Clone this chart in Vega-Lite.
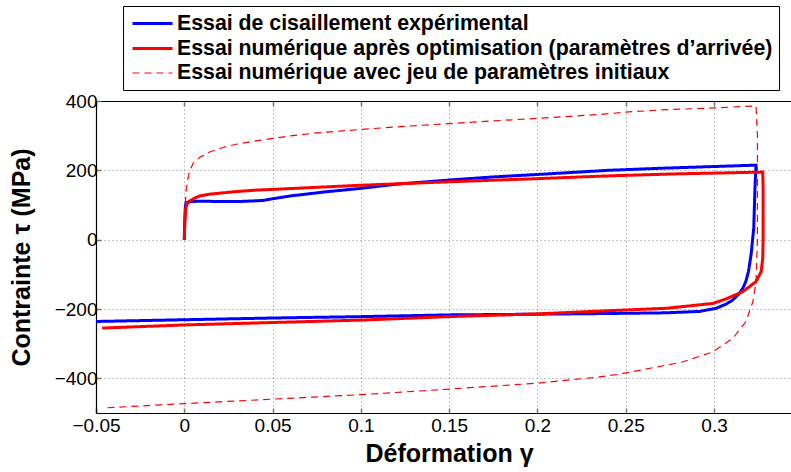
{
  "$schema": "https://vega.github.io/schema/vega-lite/v6.json",
  "autosize": {"type": "none"},
  "padding": {"left": 96, "top": 101, "right": 0, "bottom": 59},
  "width": 695,
  "height": 312,
  "background": "white",
  "view": {"stroke": null},
  "config": {
    "font": "Liberation Sans",
    "axis": {
      "labelFont": "Liberation Sans",
      "labelFontSize": 19,
      "labelColor": "black",
      "labelFlush": false,
      "titleFont": "Liberation Sans",
      "titleFontSize": 25,
      "titleFontWeight": "bold",
      "titleColor": "black",
      "domainColor": "black",
      "domainWidth": 1.2,
      "tickColor": "#777777",
      "tickSize": -5,
      "tickWidth": 1.5,
      "grid": true,
      "gridColor": "#888888",
      "gridDash": [1, 3],
      "gridWidth": 1,
      "gridOpacity": 1
    },
    "legend": {
      "orient": "none",
      "legendX": 27,
      "legendY": -95,
      "strokeColor": "black",
      "fillColor": "white",
      "padding": 6,
      "labelFont": "Liberation Sans",
      "labelFontWeight": "bold",
      "labelFontSize": 21.3,
      "labelColor": "black",
      "labelLimit": 0,
      "symbolType": "M-2,0H2",
      "symbolSize": 400,
      "symbolOffset": 12,
      "rowPadding": 3,
      "labelOffset": 13
    }
  },
  "data": {
    "values": [
      {"s": "Essai de cisaillement expérimental", "i": 0, "x": 0, "y": 0},
      {"s": "Essai de cisaillement expérimental", "i": 1, "x": 0.0003, "y": 60},
      {"s": "Essai de cisaillement expérimental", "i": 2, "x": 0.0006, "y": 95},
      {"s": "Essai de cisaillement expérimental", "i": 3, "x": 0.001, "y": 106},
      {"s": "Essai de cisaillement expérimental", "i": 4, "x": 0.003, "y": 110},
      {"s": "Essai de cisaillement expérimental", "i": 5, "x": 0.01, "y": 111},
      {"s": "Essai de cisaillement expérimental", "i": 6, "x": 0.02, "y": 110},
      {"s": "Essai de cisaillement expérimental", "i": 7, "x": 0.031, "y": 110},
      {"s": "Essai de cisaillement expérimental", "i": 8, "x": 0.0444, "y": 113},
      {"s": "Essai de cisaillement expérimental", "i": 9, "x": 0.05, "y": 118},
      {"s": "Essai de cisaillement expérimental", "i": 10, "x": 0.06, "y": 126},
      {"s": "Essai de cisaillement expérimental", "i": 11, "x": 0.07, "y": 132},
      {"s": "Essai de cisaillement expérimental", "i": 12, "x": 0.08, "y": 138},
      {"s": "Essai de cisaillement expérimental", "i": 13, "x": 0.09, "y": 143},
      {"s": "Essai de cisaillement expérimental", "i": 14, "x": 0.1, "y": 148},
      {"s": "Essai de cisaillement expérimental", "i": 15, "x": 0.12, "y": 160},
      {"s": "Essai de cisaillement expérimental", "i": 16, "x": 0.15, "y": 172},
      {"s": "Essai de cisaillement expérimental", "i": 17, "x": 0.175, "y": 181},
      {"s": "Essai de cisaillement expérimental", "i": 18, "x": 0.2, "y": 188},
      {"s": "Essai de cisaillement expérimental", "i": 19, "x": 0.24, "y": 200},
      {"s": "Essai de cisaillement expérimental", "i": 20, "x": 0.27, "y": 206},
      {"s": "Essai de cisaillement expérimental", "i": 21, "x": 0.3, "y": 211},
      {"s": "Essai de cisaillement expérimental", "i": 22, "x": 0.3238, "y": 215},
      {"s": "Essai de cisaillement expérimental", "i": 23, "x": 0.3232, "y": 150},
      {"s": "Essai de cisaillement expérimental", "i": 24, "x": 0.3225, "y": 34},
      {"s": "Essai de cisaillement expérimental", "i": 25, "x": 0.321, "y": -43},
      {"s": "Essai de cisaillement expérimental", "i": 26, "x": 0.3195, "y": -92},
      {"s": "Essai de cisaillement expérimental", "i": 27, "x": 0.318, "y": -121},
      {"s": "Essai de cisaillement expérimental", "i": 28, "x": 0.3163, "y": -140},
      {"s": "Essai de cisaillement expérimental", "i": 29, "x": 0.3144, "y": -155},
      {"s": "Essai de cisaillement expérimental", "i": 30, "x": 0.3106, "y": -174},
      {"s": "Essai de cisaillement expérimental", "i": 31, "x": 0.3068, "y": -186},
      {"s": "Essai de cisaillement expérimental", "i": 32, "x": 0.3012, "y": -198},
      {"s": "Essai de cisaillement expérimental", "i": 33, "x": 0.2917, "y": -207},
      {"s": "Essai de cisaillement expérimental", "i": 34, "x": 0.2729, "y": -211},
      {"s": "Essai de cisaillement expérimental", "i": 35, "x": 0.24, "y": -213},
      {"s": "Essai de cisaillement expérimental", "i": 36, "x": 0.2, "y": -215},
      {"s": "Essai de cisaillement expérimental", "i": 37, "x": 0.15, "y": -217},
      {"s": "Essai de cisaillement expérimental", "i": 38, "x": 0.1, "y": -222},
      {"s": "Essai de cisaillement expérimental", "i": 39, "x": 0.05, "y": -226},
      {"s": "Essai de cisaillement expérimental", "i": 40, "x": 0, "y": -231},
      {"s": "Essai de cisaillement expérimental", "i": 41, "x": -0.05, "y": -236},

      {"s": "Essai numérique après optimisation (paramètres d’arrivée)", "i": 0, "x": 0, "y": 0},
      {"s": "Essai numérique après optimisation (paramètres d’arrivée)", "i": 1, "x": 0.0003, "y": 50},
      {"s": "Essai numérique après optimisation (paramètres d’arrivée)", "i": 2, "x": 0.0008, "y": 90},
      {"s": "Essai numérique après optimisation (paramètres d’arrivée)", "i": 3, "x": 0.0015, "y": 103},
      {"s": "Essai numérique après optimisation (paramètres d’arrivée)", "i": 4, "x": 0.003, "y": 111},
      {"s": "Essai numérique après optimisation (paramètres d’arrivée)", "i": 5, "x": 0.0055, "y": 119},
      {"s": "Essai numérique après optimisation (paramètres d’arrivée)", "i": 6, "x": 0.0086, "y": 126},
      {"s": "Essai numérique après optimisation (paramètres d’arrivée)", "i": 7, "x": 0.014, "y": 131},
      {"s": "Essai numérique après optimisation (paramètres d’arrivée)", "i": 8, "x": 0.0218, "y": 135},
      {"s": "Essai numérique après optimisation (paramètres d’arrivée)", "i": 9, "x": 0.03, "y": 139},
      {"s": "Essai numérique après optimisation (paramètres d’arrivée)", "i": 10, "x": 0.0407, "y": 143},
      {"s": "Essai numérique après optimisation (paramètres d’arrivée)", "i": 11, "x": 0.05, "y": 145},
      {"s": "Essai numérique après optimisation (paramètres d’arrivée)", "i": 12, "x": 0.075, "y": 151},
      {"s": "Essai numérique après optimisation (paramètres d’arrivée)", "i": 13, "x": 0.1, "y": 157},
      {"s": "Essai numérique après optimisation (paramètres d’arrivée)", "i": 14, "x": 0.15, "y": 167},
      {"s": "Essai numérique après optimisation (paramètres d’arrivée)", "i": 15, "x": 0.2, "y": 176},
      {"s": "Essai numérique après optimisation (paramètres d’arrivée)", "i": 16, "x": 0.24, "y": 184},
      {"s": "Essai numérique après optimisation (paramètres d’arrivée)", "i": 17, "x": 0.28, "y": 190},
      {"s": "Essai numérique après optimisation (paramètres d’arrivée)", "i": 18, "x": 0.3, "y": 192},
      {"s": "Essai numérique après optimisation (paramètres d’arrivée)", "i": 19, "x": 0.3276, "y": 195},
      {"s": "Essai numérique après optimisation (paramètres d’arrivée)", "i": 20, "x": 0.3278, "y": 150},
      {"s": "Essai numérique après optimisation (paramètres d’arrivée)", "i": 21, "x": 0.3278, "y": 0},
      {"s": "Essai numérique après optimisation (paramètres d’arrivée)", "i": 22, "x": 0.3276, "y": -53},
      {"s": "Essai numérique après optimisation (paramètres d’arrivée)", "i": 23, "x": 0.3267, "y": -92},
      {"s": "Essai numérique après optimisation (paramètres d’arrivée)", "i": 24, "x": 0.3238, "y": -121},
      {"s": "Essai numérique après optimisation (paramètres d’arrivée)", "i": 25, "x": 0.3163, "y": -150},
      {"s": "Essai numérique après optimisation (paramètres d’arrivée)", "i": 26, "x": 0.3068, "y": -171},
      {"s": "Essai numérique après optimisation (paramètres d’arrivée)", "i": 27, "x": 0.2993, "y": -184},
      {"s": "Essai numérique après optimisation (paramètres d’arrivée)", "i": 28, "x": 0.2729, "y": -198},
      {"s": "Essai numérique après optimisation (paramètres d’arrivée)", "i": 29, "x": 0.249, "y": -203},
      {"s": "Essai numérique après optimisation (paramètres d’arrivée)", "i": 30, "x": 0.2, "y": -214},
      {"s": "Essai numérique après optimisation (paramètres d’arrivée)", "i": 31, "x": 0.15, "y": -222},
      {"s": "Essai numérique après optimisation (paramètres d’arrivée)", "i": 32, "x": 0.1, "y": -232},
      {"s": "Essai numérique après optimisation (paramètres d’arrivée)", "i": 33, "x": 0.05, "y": -239},
      {"s": "Essai numérique après optimisation (paramètres d’arrivée)", "i": 34, "x": 0, "y": -246},
      {"s": "Essai numérique après optimisation (paramètres d’arrivée)", "i": 35, "x": -0.0465, "y": -255},

      {"s": "Essai numérique avec jeu de paramètres initiaux", "i": 0, "x": 0, "y": 0},
      {"s": "Essai numérique avec jeu de paramètres initiaux", "i": 1, "x": 0.0003, "y": 80},
      {"s": "Essai numérique avec jeu de paramètres initiaux", "i": 2, "x": 0.001, "y": 140},
      {"s": "Essai numérique avec jeu de paramètres initiaux", "i": 3, "x": 0.002, "y": 175},
      {"s": "Essai numérique avec jeu de paramètres initiaux", "i": 4, "x": 0.003, "y": 198},
      {"s": "Essai numérique avec jeu de paramètres initiaux", "i": 5, "x": 0.005, "y": 220},
      {"s": "Essai numérique avec jeu de paramètres initiaux", "i": 6, "x": 0.0086, "y": 237},
      {"s": "Essai numérique avec jeu de paramètres initiaux", "i": 7, "x": 0.014, "y": 252},
      {"s": "Essai numérique avec jeu de paramètres initiaux", "i": 8, "x": 0.0218, "y": 266},
      {"s": "Essai numérique avec jeu de paramètres initiaux", "i": 9, "x": 0.03, "y": 276},
      {"s": "Essai numérique avec jeu de paramètres initiaux", "i": 10, "x": 0.0407, "y": 285},
      {"s": "Essai numérique avec jeu de paramètres initiaux", "i": 11, "x": 0.05, "y": 292},
      {"s": "Essai numérique avec jeu de paramètres initiaux", "i": 12, "x": 0.0596, "y": 299},
      {"s": "Essai numérique avec jeu de paramètres initiaux", "i": 13, "x": 0.075, "y": 308},
      {"s": "Essai numérique avec jeu de paramètres initiaux", "i": 14, "x": 0.1, "y": 318},
      {"s": "Essai numérique avec jeu de paramètres initiaux", "i": 15, "x": 0.125, "y": 327},
      {"s": "Essai numérique avec jeu de paramètres initiaux", "i": 16, "x": 0.15, "y": 335},
      {"s": "Essai numérique avec jeu de paramètres initiaux", "i": 17, "x": 0.2, "y": 350},
      {"s": "Essai numérique avec jeu de paramètres initiaux", "i": 18, "x": 0.235, "y": 361},
      {"s": "Essai numérique avec jeu de paramètres initiaux", "i": 19, "x": 0.25, "y": 368},
      {"s": "Essai numérique avec jeu de paramètres initiaux", "i": 20, "x": 0.273, "y": 375},
      {"s": "Essai numérique avec jeu de paramètres initiaux", "i": 21, "x": 0.3, "y": 380},
      {"s": "Essai numérique avec jeu de paramètres initiaux", "i": 22, "x": 0.3238, "y": 386},
      {"s": "Essai numérique avec jeu de paramètres initiaux", "i": 23, "x": 0.3246, "y": 300},
      {"s": "Essai numérique avec jeu de paramètres initiaux", "i": 24, "x": 0.3246, "y": 6},
      {"s": "Essai numérique avec jeu de paramètres initiaux", "i": 25, "x": 0.3238, "y": -121},
      {"s": "Essai numérique avec jeu de paramètres initiaux", "i": 26, "x": 0.322, "y": -179},
      {"s": "Essai numérique avec jeu de paramètres initiaux", "i": 27, "x": 0.318, "y": -237},
      {"s": "Essai numérique avec jeu de paramètres initiaux", "i": 28, "x": 0.3106, "y": -285},
      {"s": "Essai numérique avec jeu de paramètres initiaux", "i": 29, "x": 0.2993, "y": -324},
      {"s": "Essai numérique avec jeu de paramètres initiaux", "i": 30, "x": 0.282, "y": -353},
      {"s": "Essai numérique avec jeu de paramètres initiaux", "i": 31, "x": 0.2465, "y": -388},
      {"s": "Essai numérique avec jeu de paramètres initiaux", "i": 32, "x": 0.235, "y": -396},
      {"s": "Essai numérique avec jeu de paramètres initiaux", "i": 33, "x": 0.2, "y": -414},
      {"s": "Essai numérique avec jeu de paramètres initiaux", "i": 34, "x": 0.15, "y": -431},
      {"s": "Essai numérique avec jeu de paramètres initiaux", "i": 35, "x": 0.1, "y": -447},
      {"s": "Essai numérique avec jeu de paramètres initiaux", "i": 36, "x": 0.05, "y": -460},
      {"s": "Essai numérique avec jeu de paramètres initiaux", "i": 37, "x": 0, "y": -473},
      {"s": "Essai numérique avec jeu de paramètres initiaux", "i": 38, "x": -0.0442, "y": -485}
    ]
  },
  "resolve": {"axis": {"x": "independent"}},
  "layer": [
    {
      "mark": {"type": "line", "clip": true},
      "encoding": {
        "x": {
          "field": "x", "type": "quantitative",
          "scale": {"domain": [-0.05, 0.3436], "nice": false, "zero": false},
          "axis": {"orient": "bottom", "title": "Déformation γ", "titleX": 353, "values": [-0.05, 0, 0.05, 0.1, 0.15, 0.2, 0.25, 0.3], "format": "~g", "labelPadding": 8, "titlePadding": 6}
        },
        "y": {
          "field": "y", "type": "quantitative",
          "scale": {"domain": [-500, 400], "nice": false, "zero": false},
          "axis": {"title": "Contrainte τ (MPa)", "values": [-400, -200, 0, 200, 400], "labelPadding": 4, "titlePadding": 20}
        },
        "order": {"field": "i", "type": "quantitative"},
        "color": {
          "field": "s", "type": "nominal",
          "scale": {
            "domain": ["Essai de cisaillement expérimental", "Essai numérique après optimisation (paramètres d’arrivée)", "Essai numérique avec jeu de paramètres initiaux"],
            "range": ["#0000ff", "#ff0000", "#ff0000"]
          },
          "legend": {"title": null}
        },
        "strokeDash": {
          "field": "s", "type": "nominal",
          "scale": {
            "domain": ["Essai de cisaillement expérimental", "Essai numérique après optimisation (paramètres d’arrivée)", "Essai numérique avec jeu de paramètres initiaux"],
            "range": [[1, 0], [1, 0], [7, 5]]
          },
          "legend": {"title": null}
        },
        "strokeWidth": {
          "field": "s", "type": "ordinal",
          "scale": {
            "type": "ordinal",
            "domain": ["Essai de cisaillement expérimental", "Essai numérique après optimisation (paramètres d’arrivée)", "Essai numérique avec jeu de paramètres initiaux"],
            "range": [3, 3, 1.2]
          },
          "legend": {"title": null}
        }
      }
    },
    {
      "mark": {"type": "point", "opacity": 0},
      "encoding": {
        "x": {
          "field": "x", "type": "quantitative",
          "axis": {"orient": "top", "title": null, "labels": false, "grid": false, "values": [-0.05, 0, 0.05, 0.1, 0.15, 0.2, 0.25, 0.3]}
        },
        "y": {"field": "y", "type": "quantitative"}
      }
    }
  ]
}
